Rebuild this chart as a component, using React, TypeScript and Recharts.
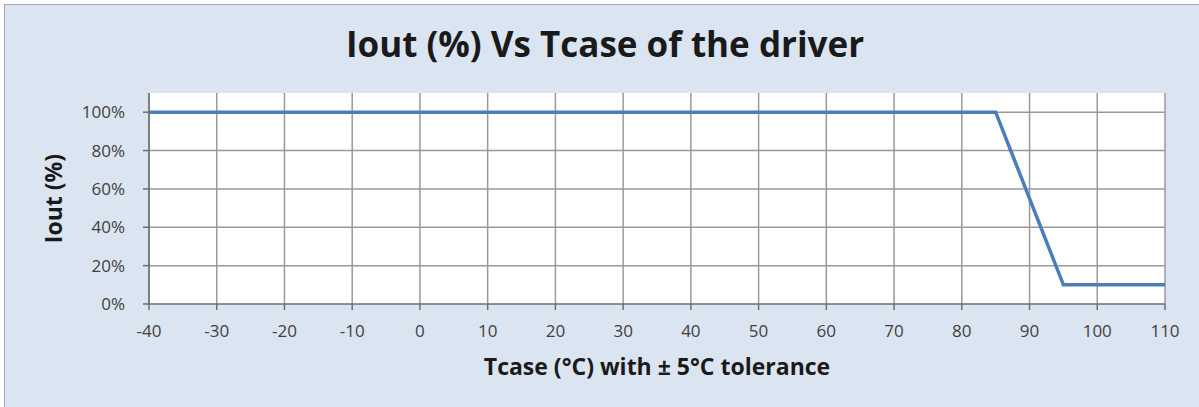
import {CartesianGrid, Label, Line, LineChart, ReferenceLine, XAxis, YAxis} from 'recharts'

const tcase = [-40, 85, 95, 110]
const iout = [1.0, 1.0, 0.1, 0.1]
const xTicks = [-40, -30, -20, -10, 0, 10, 20, 30, 40, 50, 60, 70, 80, 90, 100, 110]
const yTicks = [0, 0.2, 0.4, 0.6, 0.8, 1.0]
const Y_MAX = 1.1

const data = tcase.map((t, i) => ({t, iout: iout[i]}))

const FONT = '"Open Sans", "DejaVu Sans", sans-serif'
const GRID = '#999999'
const AXIS = '#6e6e6e'

export default function App() {
    return (
        <div style={{position: 'absolute', left: 0, top: 0, width: 1199, height: 407, background: '#fff', overflow: 'hidden'}}>
            <div style={{
                position: 'absolute', left: 4, top: 4, width: 1200, height: 410,
                background: '#dbe5f1', border: '1px solid #a6a6a6', boxSizing: 'border-box'
            }}/>
            <div style={{
                position: 'absolute', left: 0, top: 20, width: 1210, textAlign: 'center',
                fontFamily: FONT, fontWeight: 700, fontSize: 35, color: '#1a1a1a'
            }}>
                Iout (%) Vs Tcase of the driver
            </div>
            <LineChart
                width={1199}
                height={407}
                data={data}
                margin={{top: 93, right: 34, bottom: 13, left: 0}}
                style={{position: 'absolute', left: 0, top: 0}}
            >
                {/* vertical grid only; horizontal rows come from the y ticks below */}
                <CartesianGrid stroke={GRID} strokeWidth={1.5} fill="#fff" horizontal={false}/>
                {yTicks.slice(1).map((v) => (
                    <ReferenceLine key={v} y={v} stroke={GRID} strokeWidth={1.5}/>
                ))}
                <XAxis
                    dataKey="t"
                    type="number"
                    domain={[-40, 110]}
                    ticks={xTicks}
                    interval={0}
                    height={90}
                    stroke={AXIS}
                    strokeWidth={1.5}
                    tickSize={6}
                    tickMargin={15}
                    tick={{fill: '#404040', fontSize: 17, fontFamily: FONT}}
                >
                    <Label
                        value="Tcase (°C) with ± 5°C tolerance"
                        position="insideBottom"
                        offset={19}
                        style={{fill: '#1a1a1a', fontSize: 23, fontWeight: 700, fontFamily: FONT}}
                    />
                </XAxis>
                <YAxis
                    type="number"
                    domain={[0, Y_MAX]}
                    ticks={yTicks}
                    interval={0}
                    width={149}
                    stroke={AXIS}
                    strokeWidth={1.5}
                    tickSize={6}
                    tickMargin={18}
                    tickFormatter={(v: number) => `${Math.round(v * 100)}%`}
                    tick={{fill: '#404040', fontSize: 17, fontFamily: FONT}}
                >
                    <Label
                        value="Iout (%)"
                        angle={-90}
                        position="insideLeft"
                        offset={54}
                        style={{fill: '#1a1a1a', fontSize: 23, fontWeight: 700, fontFamily: FONT, textAnchor: 'middle'}}
                    />
                </YAxis>
                <Line
                    type="linear"
                    dataKey="iout"
                    stroke="#4a7ebb"
                    strokeWidth={3.5}
                    dot={false}
                    isAnimationActive={false}
                />
            </LineChart>
        </div>
    )
}
